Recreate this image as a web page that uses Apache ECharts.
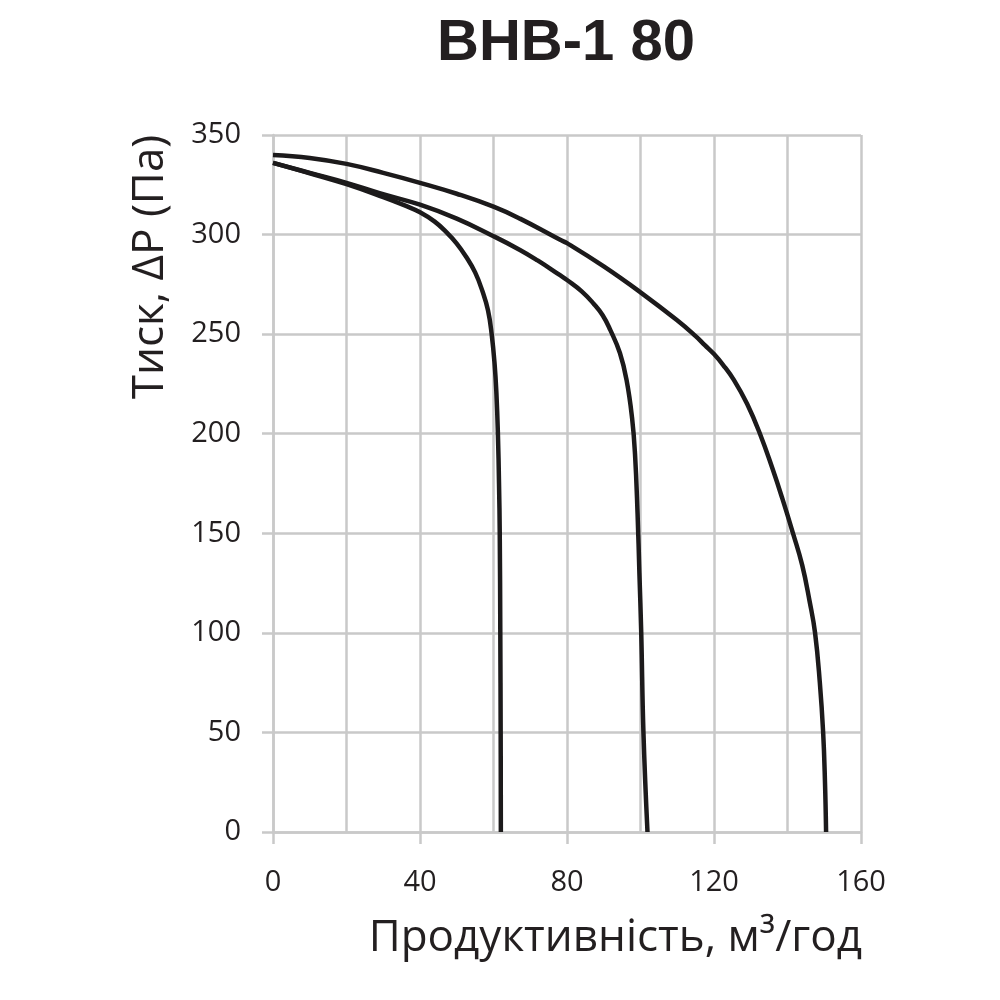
<!DOCTYPE html>
<html>
<head>
<meta charset="utf-8">
<script src="https://cdn.jsdelivr.net/npm/echarts@6/dist/echarts.min.js"></script>
<style>
    html, body {margin:0;padding:0;background:#fff}
    #chart {width:1000px;height:1000px}
</style>
</head>
<body>
<div id="chart"></div>
<script>
    // продуктивність (м3/год) та тиск (Па) для трьох кривих
    var flow1 = [0, 10, 20, 30, 36, 40, 44, 47.3, 50, 52.5, 55, 57, 58.5, 59.5, 60.3, 60.8, 61.2, 61.5, 61.7, 61.85, 61.95, 62];
    var pres1 = [336, 330.8, 325.3, 318.8, 314.5, 311.2, 306.5, 301, 295.5, 289, 281, 271.5, 262, 250, 235, 220, 200, 175, 150, 100, 50, 0];

    var flow2 = [0, 10, 20, 29, 40, 50, 60, 67.2, 72, 78, 80, 84, 87.2, 89.7, 91.8, 94.4, 96.2, 97.7, 98.5, 99.2, 99.7, 100.2, 100.8, 101.9];
    var pres2 = [336, 331, 326, 320.8, 315, 308, 299.2, 292.3, 287, 279.7, 277.2, 271.5, 265.4, 259.5, 252, 240.5, 227, 208, 190, 160, 130, 100, 50, 0];

    var flow3 = [0, 10, 20, 30, 40, 50, 60, 67.2, 78, 80, 90, 100, 109.8, 115, 117.5, 120, 122.5, 125.4, 129, 132.5, 136, 138.5, 141.5, 144, 146, 147.5, 148.8, 149.7, 150.2, 150.5];
    var pres3 = [340, 338.5, 335.5, 331, 326, 320.5, 314, 308, 297.5, 295.7, 284, 271, 257.2, 249, 244.5, 240, 234.5, 227, 215, 200, 182, 168, 150, 134, 116, 100, 75, 50, 25, 0];

    var titleText = 'ВНВ-1 80';
    var xName = 'Продуктивність, м³/год';
    var yName = 'Тиск, ΔP (Па)';

    function pairs(xs, ys) {
        var out = [];
        for (var i = 0; i < xs.length; i++) out.push([xs[i], ys[i]]);
        return out;
    }

    var chart = echarts.init(document.getElementById('chart'));
    var gridColor = '#c9c9c9';
    var txt = '#231f20';

    function curve(xs, ys) {
        return {
            type: 'line',
            data: pairs(xs, ys),
            smooth: 0.45,
            showSymbol: false,
            lineStyle: {color: '#1c1a1b', width: 4.5},
            silent: true
        };
    }

    chart.setOption({
        animation: false,
        title: {
            text: titleText,
            left: 561,
            top: 10,
            textAlign: 'center',
            textStyle: {fontFamily: 'Liberation Sans', fontWeight: 'bold', fontSize: 58, color: txt}
        },
        grid: {left: 273, top: 135, width: 588, height: 697, containLabel: false},
        xAxis: {
            type: 'value',
            min: 0, max: 160, interval: 40,
            axisLine: {show: true, lineStyle: {color: gridColor, width: 2.5}},
            axisTick: {show: true, length: 12, lineStyle: {color: gridColor, width: 2.5}},
            axisLabel: {margin: 36, fontFamily: 'Open Sans', fontSize: 29, color: txt},
            splitLine: {show: true, lineStyle: {color: gridColor, width: 2.5}},
            minorTick: {show: false, splitNumber: 2},
            minorSplitLine: {show: true, lineStyle: {color: gridColor, width: 2.5}}
        },
        yAxis: {
            type: 'value',
            min: 0, max: 350, interval: 50,
            axisLine: {show: true, lineStyle: {color: gridColor, width: 2.5}},
            axisTick: {show: true, length: 11, lineStyle: {color: gridColor, width: 2.5}},
            axisLabel: {margin: 32, fontFamily: 'Open Sans', fontSize: 29, color: txt},
            splitLine: {show: true, lineStyle: {color: gridColor, width: 2.5}}
        },
        graphic: [
            {
                type: 'text',
                x: 150, y: 267,
                rotation: Math.PI / 2,
                style: {text: yName, fontFamily: 'Open Sans', fontSize: 44, fill: txt,
                        align: 'center', verticalAlign: 'middle'}
            },
            {
                type: 'text',
                x: 862, y: 938,
                style: {text: xName, fontFamily: 'Open Sans', fontSize: 44, fill: txt,
                        align: 'right', verticalAlign: 'middle'}
            }
        ],
        series: [curve(flow1, pres1), curve(flow2, pres2), curve(flow3, pres3)]
    });
</script>
</body>
</html>
